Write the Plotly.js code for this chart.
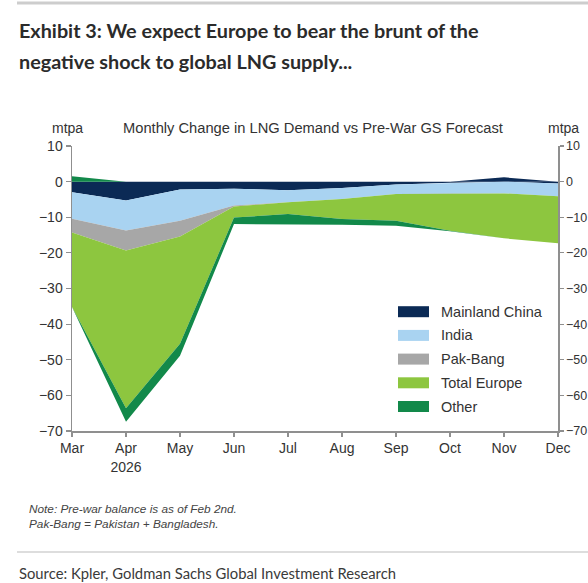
<!DOCTYPE html>
<html>
<head>
<meta charset="utf-8">
<script src="https://cdn.plot.ly/plotly-3.0.1.min.js"></script>
<style>
  html, body { margin: 0; padding: 0; background: #ffffff; }
  #chart { width: 588px; height: 583px; }
</style>
</head>
<body>
<div id="chart"></div>
<script>
// ---- Data (mtpa, monthly change vs pre-war GS forecast) ----
const months = ['Mar', 'Apr', 'May', 'Jun', 'Jul', 'Aug', 'Sep', 'Oct', 'Nov', 'Dec'];
const yearLabels = ['', '2026', '', '', '', '', '', '', '', ''];
const seriesNames = ['Mainland China', 'India', 'Pak-Bang', 'Total Europe', 'Other'];
const mainlandChina = [-3.0, -5.3, -2.2, -2.0, -2.4, -1.8, -0.8, -0.3, 1.2, -0.5];
const india         = [-7.4, -8.4, -8.8, -4.7, -3.4, -3.1, -2.7, -3.2, -3.3, -3.6];
const pakBang       = [-3.9, -5.6, -4.4, -0.3, 0.0, 0.0, 0.0, 0.0, 0.0, 0.0];
const totalEurope   = [-20.9, -44.3, -30.1, -3.1, -3.3, -5.6, -7.5, -10.3, -12.6, -13.2];
const other         = [1.5, -3.8, -3.4, -1.8, -2.8, -1.6, -1.4, -0.1, 0.0, 0.0];

const chartTitle = ['Exhibit 3: We expect Europe to bear the brunt of the',
                    'negative shock to global LNG supply...'];
const subTitle = 'Monthly Change in LNG Demand vs Pre-War GS Forecast';
const unitLabel = 'mtpa';
const notes = ['Note: Pre-war balance is as of Feb 2nd.', 'Pak-Bang = Pakistan + Bangladesh.'];
const sourceText = 'Source: Kpler, Goldman Sachs Global Investment Research';

// ---- Styles ----
const colors = ['#0b2a55', '#a9d3f1', '#a7a7a7', '#8dc63f', '#12894a'];
const allSeries = [mainlandChina, india, pakBang, totalEurope, other];

// geometry helpers (pixel -> paper)
const L = 72, R = 558, T = 146, B = 431;
const px = p => (p - L) / (R - L);
const py = p => (B - p) / (B - T);

const idx = months.map((m, i) => i);
const traces = [];
let posBase = idx.map(() => 0);
let negBase = idx.map(() => 0);

function poly(hi, lo, color) {
  return {
    type: 'scatter', mode: 'lines',
    x: idx.concat(idx.slice().reverse()),
    y: hi.concat(lo.slice().reverse()),
    fill: 'toself', fillcolor: color,
    line: { width: 0, color: color },
    hoverinfo: 'skip', showlegend: false
  };
}

allSeries.forEach((vals, k) => {
  const pLo = posBase.slice();
  const pHi = posBase.map((b, i) => b + Math.max(vals[i], 0));
  const nHi = negBase.slice();
  const nLo = negBase.map((b, i) => b + Math.min(vals[i], 0));
  posBase = pHi; negBase = nLo;
  if (vals.some(v => v > 0)) traces.push(poly(pHi, pLo, colors[k]));
  if (vals.some(v => v < 0)) traces.push(poly(nHi, nLo, colors[k]));
});

// invisible trace to anchor the right axis
traces.push({ type: 'scatter', x: [null], y: [null], yaxis: 'y2', showlegend: false, hoverinfo: 'skip' });

const axisColor = '#8f8f8f';
const tickFont = { family: 'Liberation Sans, Arial, sans-serif', size: 14, color: '#333333' };

const yCommon = {
  range: [-70, 10], dtick: 10, tick0: 0,
  showgrid: false, zeroline: false,
  showline: true, linecolor: axisColor, linewidth: 1.5,
  ticks: 'outside', ticklen: 5, tickcolor: axisColor, tickwidth: 1.2,
  tickfont: tickFont, fixedrange: true
};

const annotations = [];
const shapes = [];

// titles
const titleFont = { family: 'Lato, sans-serif', size: 19.8, color: '#2b2b2b', weight: 900 };
annotations.push({ xref: 'paper', yref: 'paper', x: px(17), y: py(30), xanchor: 'left', yanchor: 'middle',
  text: '<b>' + chartTitle[0] + '</b>', showarrow: false, font: titleFont });
annotations.push({ xref: 'paper', yref: 'paper', x: px(17), y: py(61), xanchor: 'left', yanchor: 'middle',
  text: '<b>' + chartTitle[1] + '</b>', showarrow: false, font: titleFont });
annotations.push({ xref: 'paper', yref: 'paper', x: px(313), y: py(128), xanchor: 'center', yanchor: 'middle',
  text: subTitle, showarrow: false,
  font: { family: 'Liberation Sans, Arial, sans-serif', size: 14.7, color: '#333333' } });
annotations.push({ xref: 'paper', yref: 'paper', x: px(67), y: py(128), xanchor: 'center', yanchor: 'middle',
  text: unitLabel, showarrow: false,
  font: { family: 'Liberation Sans, Arial, sans-serif', size: 14, color: '#333333' } });
annotations.push({ xref: 'paper', yref: 'paper', x: px(563), y: py(128), xanchor: 'center', yanchor: 'middle',
  text: unitLabel, showarrow: false,
  font: { family: 'Liberation Sans, Arial, sans-serif', size: 14, color: '#333333' } });

// notes
notes.forEach((t, i) => {
  annotations.push({ xref: 'paper', yref: 'paper', x: px(27), y: py(509 + i * 15), xanchor: 'left', yanchor: 'middle',
    text: t, showarrow: false,
    font: { family: 'Liberation Sans, Arial, sans-serif', size: 11.8, color: '#444444', style: 'italic' } });
});
// source
annotations.push({ xref: 'paper', yref: 'paper', x: px(17), y: py(573), xanchor: 'left', yanchor: 'middle',
  text: sourceText, showarrow: false,
  font: { family: 'Lato, sans-serif', size: 14.8, color: '#3a3a3a' } });

// rules
shapes.push({ type: 'line', xref: 'paper', yref: 'paper', x0: px(17), x1: px(588), y0: py(3), y1: py(3),
  line: { color: '#cdcdcd', width: 3 } });
shapes.push({ type: 'line', xref: 'paper', yref: 'paper', x0: px(17), x1: px(588), y0: py(552), y1: py(552),
  line: { color: '#d2d2d2', width: 1.5 } });

// legend (manual)
seriesNames.forEach((name, k) => {
  const cy = 311.7 + k * 23.7;
  shapes.push({ type: 'rect', xref: 'paper', yref: 'paper',
    x0: px(398), x1: px(429), y0: py(cy - 5.5), y1: py(cy + 5.5),
    fillcolor: colors[k], line: { width: 0 } });
  annotations.push({ xref: 'paper', yref: 'paper', x: px(439), y: py(cy), xanchor: 'left', yanchor: 'middle',
    text: name, showarrow: false,
    font: { family: 'Liberation Sans, Arial, sans-serif', size: 14.5, color: '#333333' } });
});

const layout = {
  width: 588, height: 583,
  margin: { l: L, r: 588 - R, t: T, b: 583 - B, pad: 0 },
  paper_bgcolor: '#ffffff', plot_bgcolor: '#ffffff',
  showlegend: false,
  xaxis: {
    range: [0, months.length - 1],
    tickmode: 'array', tickvals: idx,
    ticktext: months.map((m, i) => yearLabels[i] ? m + '<br>' + yearLabels[i] : m),
    showgrid: false, zeroline: false,
    showline: true, linecolor: axisColor, linewidth: 1.5,
    ticks: 'outside', ticklen: 4, tickcolor: axisColor, tickwidth: 1.2,
    tickfont: tickFont, fixedrange: true
  },
  yaxis: Object.assign({ side: 'left' }, yCommon),
  yaxis2: Object.assign({ side: 'right', overlaying: 'y' }, yCommon,
    { ticklen: 4, tickfont: { family: 'Liberation Sans, Arial, sans-serif', size: 12.5, color: '#333333' } }),
  annotations: annotations,
  shapes: shapes
};

Plotly.newPlot('chart', traces, layout, { displayModeBar: false, staticPlot: true });
</script>
</body>
</html>
